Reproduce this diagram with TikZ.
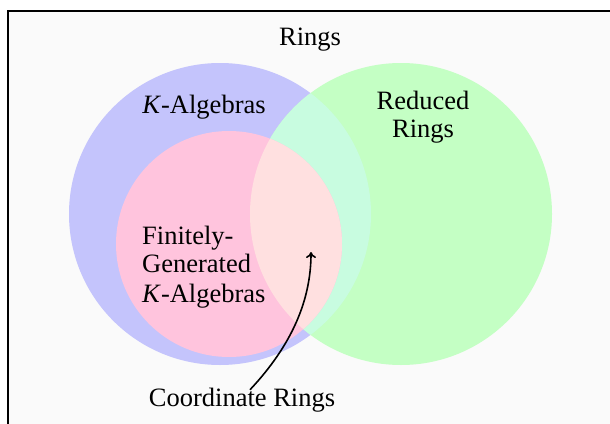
\documentclass[tikz,border=0pt]{standalone}
\usepackage{fontspec}
\setmainfont{Liberation Serif}
\usetikzlibrary{arrows.meta}
\definecolor{bgc}{HTML}{FAFAFA}
\definecolor{bluec}{HTML}{C4C4FC}
\definecolor{greenc}{HTML}{C4FFC4}
\definecolor{pinkc}{HTML}{FFC4DD}
\definecolor{bgoverlap}{HTML}{C8FCE0}
\definecolor{pgoverlap}{HTML}{FFE0E0}
\tikzset{
  lbl/.style={inner sep=0pt, font=\fontsize{26.5}{28.3}\selectfont},
  frame/.style={draw=black, line width=2pt, fill=bgc},
  pointer/.style={draw=black, line width=1.6pt, -{To[length=6pt,width=10pt]}}
}
\begin{document}
\begin{tikzpicture}[x=1pt,y=-1pt]
\useasboundingbox (0,0) rectangle (610,423);
\clip (0,0) rectangle (610,423);
\fill[white] (0,0) rectangle (610,423);
\path[frame] (8,11) rectangle (640,460);
% sets
\fill[bluec] (220,214) circle[radius=151];
\fill[greenc] (401,214) circle[radius=151];
\begin{scope}
  \clip (401,214) circle[radius=151];
  \fill[bgoverlap] (220,214) circle[radius=151];
\end{scope}
\fill[pinkc] (229,244) circle[radius=113];
\begin{scope}
  \clip (401,214) circle[radius=151];
  \fill[pgoverlap] (229,244) circle[radius=113];
\end{scope}
% labels
\node[lbl] (rings) at (310,40) {Rings};
\node[lbl] (kalg) at (204,107) {\textit{K}-Algebras};
\node[lbl, align=center] (reduced) at (423,117) {Reduced\\Rings};
\node[lbl, align=left, anchor=west] (fgk) at (142,267) {Finitely-\\Generated\\[2pt]\textit{K}-Algebras};
\node[lbl] (coord) at (242,400) {Coordinate Rings};
\coordinate (tip) at (311,252);
\draw[pointer] ([xshift=8pt,yshift=-2pt]coord.north) .. controls (292,345) and (311,300) .. (tip);
\end{tikzpicture}
\end{document}
